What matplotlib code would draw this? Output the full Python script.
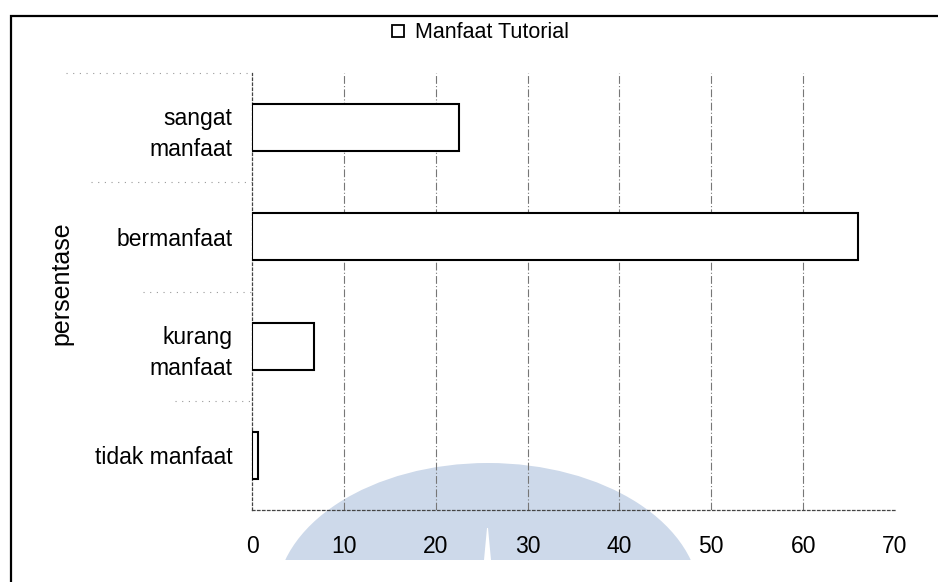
import matplotlib
matplotlib.use('Agg')
import matplotlib.pyplot as plt
from matplotlib.lines import Line2D
from matplotlib.patches import Rectangle, Ellipse, Polygon

plt.rcParams['font.family'] = ['Liberation Sans', 'DejaVu Sans']

# Survey answers, bottom to top as they appear on the axis
categories = ['tidak manfaat', 'kurang\nmanfaat', 'bermanfaat', 'sangat\nmanfaat']
values = [0.6, 6.7, 66.0, 22.5]
xticks = [0, 10, 20, 30, 40, 50, 60, 70]
series_name = 'Manfaat Tutorial'

fig = plt.figure(figsize=(9.38, 5.82), dpi=100)
fig.patch.set_facecolor('white')

# light blue logo shape sitting under the x labels
logo = Ellipse((488 / 938, 1 - 600 / 582), 424 / 938, 274 / 582,
               transform=fig.transFigure, facecolor='#cdd9ea', edgecolor='none', zorder=0)
fig.add_artist(logo)
cut = Rectangle((0, 0), 1, 1 - 560 / 582, transform=fig.transFigure,
                facecolor='white', edgecolor='none', zorder=0.1)
fig.add_artist(cut)
notch = Polygon([(484 / 938, 1 - 560 / 582), (491 / 938, 1 - 560 / 582),
                 (488 / 938, 1 - 528 / 582), (487 / 938, 1 - 528 / 582)],
                closed=True, transform=fig.transFigure,
                facecolor='white', edgecolor='none', zorder=0.2)
fig.add_artist(notch)

# outer border of the chart area
border = Rectangle((10.5 / 938, -0.2), 1.2, 1.2 - 15.5 / 582,
                   transform=fig.transFigure, fill=False,
                   edgecolor='black', linewidth=1.6, zorder=5)
fig.add_artist(border)

ax = fig.add_axes([252 / 938, 72 / 582, (895 - 252) / 938, (510 - 73) / 582])
ax.patch.set_alpha(0)

ypos = list(range(len(categories)))
ax.barh(ypos, values, height=0.43, color='white', edgecolor='black',
        linewidth=1.5, zorder=3)

ax.set_xlim(0, 70)
ax.set_ylim(-0.5, len(categories) - 0.5)
ax.set_xticks(xticks)
ax.set_xticklabels([str(t) for t in xticks], fontsize=16.5)
ax.set_yticks(ypos)
ax.set_yticklabels(categories, fontsize=16.5, linespacing=1.45)
for lbl in ax.get_yticklabels():
    lbl.set_horizontalalignment('right')
ax.tick_params(axis='x', length=0, pad=18)
ax.tick_params(axis='y', length=0, pad=14)

# dash-dot vertical grid
for t in xticks[1:-1]:
    ax.axvline(t, color='#777777', linestyle=(0, (7, 2, 1, 2)), linewidth=0.8, zorder=1)

for side in ['top', 'right']:
    ax.spines[side].set_visible(False)
for side in ['left', 'bottom']:
    ax.spines[side].set_linestyle((0, (2, 2)))
    ax.spines[side].set_linewidth(0.9)
    ax.spines[side].set_color('#444444')

# faint category separators running into the label area
for b, x0 in [(3.5, -0.29), (2.5, -0.25), (1.5, -0.17), (0.5, -0.12)]:
    ax.plot([x0 * 70, 0], [b, b], color='#999999', linestyle=(0, (1, 5)),
            linewidth=0.8, clip_on=False, zorder=1)

ax.set_ylabel('persentase', fontsize=18)
ax.yaxis.set_label_coords(-0.277, 0.52)

handle = Line2D([], [], marker='s', linestyle='none', markersize=8,
                markerfacecolor='white', markeredgecolor='black', markeredgewidth=1.3)
fig.legend([handle], [series_name], loc='center', bbox_to_anchor=(480 / 938, 1 - 33 / 582),
           frameon=False, fontsize=15.5, handlelength=0.6, handletextpad=0.5)

fig.savefig('out.png', dpi=100)
